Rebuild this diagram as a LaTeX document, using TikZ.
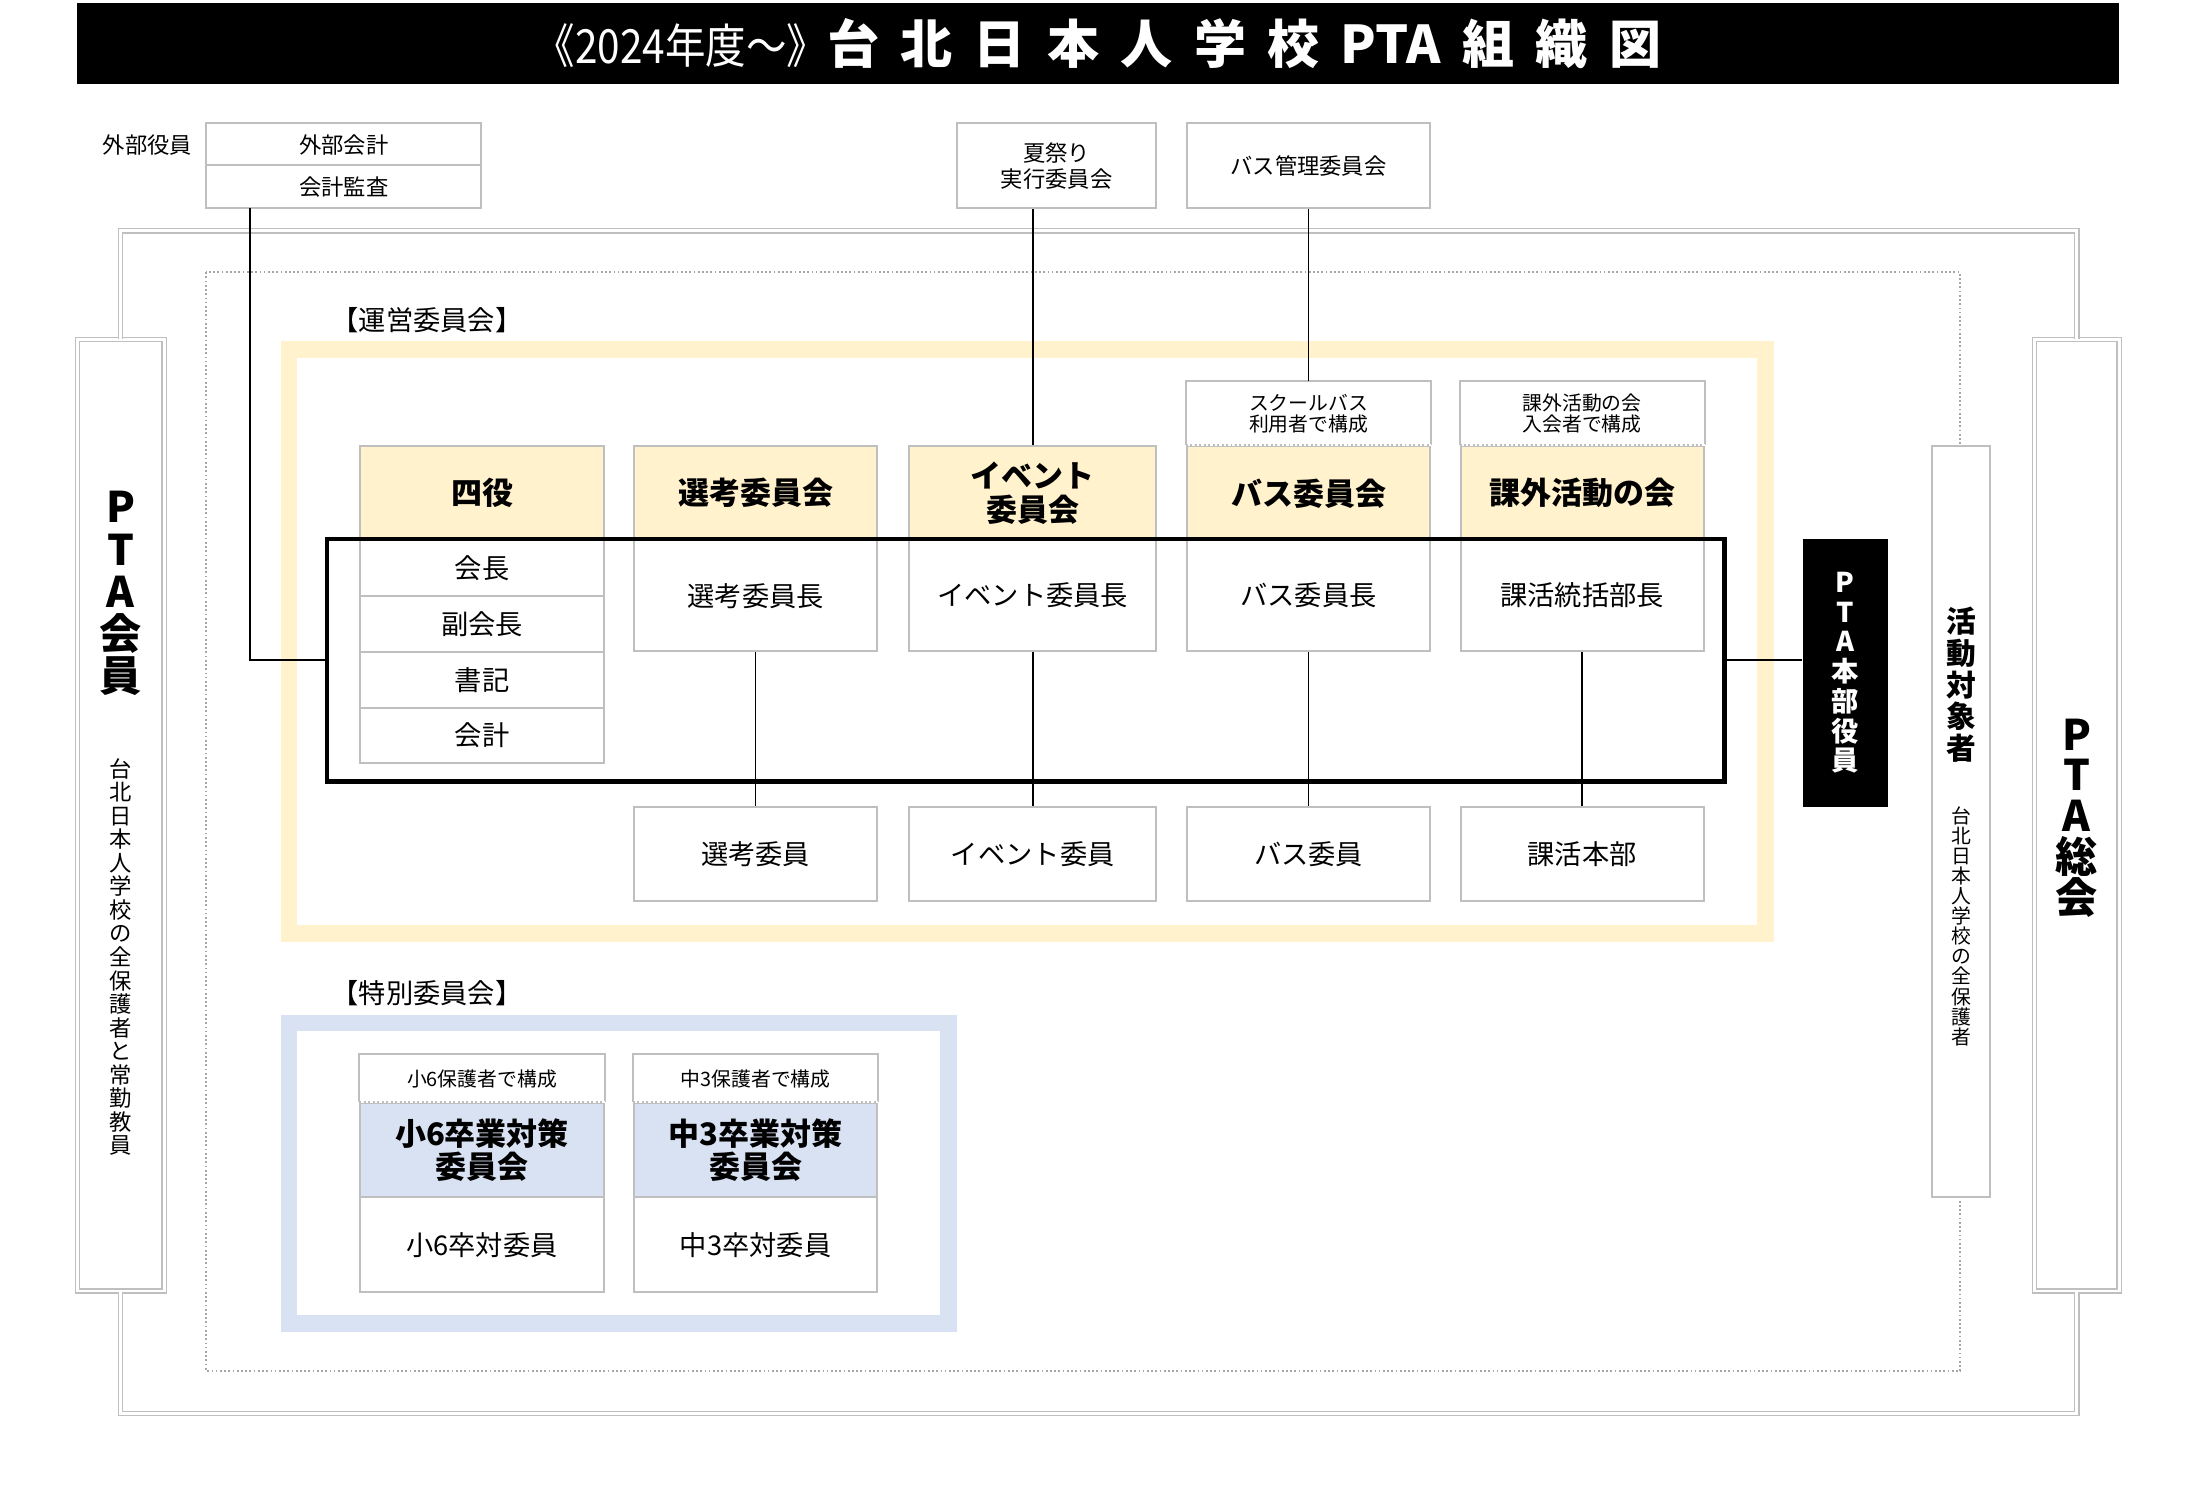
\documentclass[tikz,border=0pt]{standalone}
\usepackage{fontspec}
\setmainfont{Noto Sans CJK JP}
\definecolor{hdyel}{HTML}{FFF2CC}
\definecolor{hdblue}{HTML}{D9E2F3}
\definecolor{bxgray}{HTML}{BFBFBF}
\newcommand\tsp{\kern0.41em}

\begin{document}
\begin{tikzpicture}[x=0.0199cm, y=-0.0199cm,
        bx/.style={draw=bxgray, line width=0.8pt, fill=white, minimum width=3.45cm, inner sep=0pt, align=center, font=\fontsize{11}{13}\selectfont},
        hd/.style={bx, fill=hdyel, minimum height=1.33cm, font=\fontsize{12.5}{13.5}\selectfont\bfseries},
        hdb/.style={hd, fill=hdblue},
        nt/.style={bx, draw=none, font=\fontsize{8}{8.5}\selectfont},
        ln/.style={line width=0.6pt},
        dbl/.style={draw=bxgray, line width=0.5pt, double=white, double distance=1.2pt},
        sep/.style={bxgray, line width=0.8pt, densely dotted},
        vt/.style={align=center, inner sep=0pt}]
    \useasboundingbox (0,0) rectangle (1567.8,1073.4);
    \node[fill=black, text=white, minimum width=28.95cm, minimum height=1.16cm, inner sep=0pt] (title) at (782.5,31)
        {\fontsize{19}{20}\selectfont\scalebox{0.86}[1]{《2024年度～》}\bfseries\fontsize{21}{22}\selectfont 台\tsp 北\tsp 日\tsp 本\tsp 人\tsp 学\tsp 校\tsp PTA\tsp 組\tsp 織\tsp 図};

    \node[font=\fontsize{9}{10}\selectfont] (gy) at (105,103) {外部役員};
    \node[bx, minimum width=3.9cm, minimum height=0.6cm, font=\fontsize{9}{10}\selectfont] (gk) at (245,103) {外部会計};
    \node[bx, minimum width=3.9cm, minimum height=0.6cm, font=\fontsize{9}{10}\selectfont] (ks) at (245,133) {会計監査};
    \node[bx, minimum width=2.83cm, minimum height=1.2cm, font=\fontsize{9}{10.5}\selectfont] (nm) at (753,118) {夏祭り\\実行委員会};
    \node[bx, minimum height=1.2cm, font=\fontsize{9}{10}\selectfont] (bk) at (932.5,118) {バス管理委員会};

    \node[dbl, minimum width=1.23cm, minimum height=13.49cm] (kaiin) at (86,581) {};
    \node[dbl, minimum width=1.2cm, minimum height=13.49cm] (sokai) at (1480,581) {};
    \draw[dbl] (kaiin.north) -- ++(0,-77) -| (sokai.north);
    \draw[dbl] (kaiin.south) -- ++(0,87) -| (sokai.south);
    \draw[gray!70, line width=0.7pt, densely dotted] (147,194) rectangle (1397,977);
    \node[draw=bxgray, line width=0.8pt, fill=white, minimum width=0.82cm, minimum height=10.65cm] (taisho) at (1397.5,585.5) {};

    \node[vt, font=\fontsize{17}{17}\selectfont\bfseries] (kaiinA) at (86,423) {P\\T\\A\\会\\員};
    \node[vt, font=\fontsize{9}{9.5}\selectfont] (kaiinB) at (86,682) {台\\北\\日\\本\\人\\学\\校\\の\\全\\保\\護\\者\\と\\常\\勤\\教\\員};
    \node[vt, font=\fontsize{12}{12.8}\selectfont\bfseries] (taishoA) at (1397.5,488) {活\\動\\対\\象\\者};
    \node[vt, font=\fontsize{8}{8.1}\selectfont] (taishoB) at (1397.5,660) {台\\北\\日\\本\\人\\学\\校\\の\\全\\保\\護\\者};
    \node[vt, font=\fontsize{17}{16.5}\selectfont\bfseries] (sokaiA) at (1480,583) {P\\T\\A\\総\\会};

    \node[anchor=west, font=\fontsize{11}{12}\selectfont] (unei) at (230,228) {【運営委員会】};
    \node[anchor=west, font=\fontsize{11}{12}\selectfont] (tokube) at (230,708) {【特別委員会】};
    \draw[hdyel, line width=6.8pt] (206,249) rectangle (1258,665);
    \draw[hdblue, line width=6.8pt] (206,729) rectangle (676,943);

    \node[hd] (h1) at (343.5,351.5) {四役};
    \node[bx, minimum height=0.79cm] (r1) at (343.5,404.9) {会長};
    \node[bx, minimum height=0.79cm] (r2) at (343.5,444.6) {副会長};
    \node[bx, minimum height=0.79cm] (r3) at (343.5,484.4) {書記};
    \node[bx, minimum height=0.79cm] (r4) at (343.5,524.1) {会計};

    \node[hd] (h2) at (538.5,351.5) {選考委員会};
    \node[bx, minimum height=1.57cm] (ch2) at (538.5,424.5) {選考委員長};
    \node[bx, minimum height=1.33cm] (m2) at (538.5,608.5) {選考委員};

    \node[hd, minimum width=3.5cm] (h3) at (736,351.5) {イベント\\委員会};
    \node[bx, minimum width=3.5cm, minimum height=1.57cm] (ch3) at (736,424.5) {イベント委員長};
    \node[bx, minimum width=3.5cm, minimum height=1.33cm] (m3) at (736,608.5) {イベント委員};

    \node[nt, minimum height=0.92cm] (n4) at (932.5,295) {スクールバス\\利用者で構成};
    \node[hd] (h4) at (932.5,351.5) {バス委員会};
    \node[bx, minimum height=1.57cm] (ch4) at (932.5,424.5) {バス委員長};
    \node[bx, minimum height=1.33cm] (m4) at (932.5,608.5) {バス委員};

    \node[nt, minimum height=0.92cm] (n5) at (1127.5,295) {課外活動の会\\入会者で構成};
    \node[hd] (h5) at (1127.5,351.5) {課外活動の会};
    \node[bx, minimum height=1.57cm] (ch5) at (1127.5,424.5) {課活統括部長};
    \node[bx, minimum height=1.33cm] (m5) at (1127.5,608.5) {課活本部};

    \node[nt, minimum height=0.68cm] (s1) at (343.5,769) {小6保護者で構成};
    \node[hdb] (sh1) at (343.5,819.5) {小6卒業対策\\委員会};
    \node[bx, minimum height=1.35cm] (sm1) at (343.5,887) {小6卒対委員};
    \node[nt, minimum height=0.68cm] (s2) at (538.5,769) {中3保護者で構成};
    \node[hdb] (sh2) at (538.5,819.5) {中3卒業対策\\委員会};
    \node[bx, minimum height=1.35cm] (sm2) at (538.5,887) {中3卒対委員};

    \draw[bxgray, line width=0.8pt] (h4.north west) |- (n4.north) -| (h4.north east);
    \draw[bxgray, line width=0.8pt] (h5.north west) |- (n5.north) -| (h5.north east);
    \draw[bxgray, line width=0.8pt] (sh1.north west) |- (s1.north) -| (sh1.north east);
    \draw[bxgray, line width=0.8pt] (sh2.north west) |- (s2.north) -| (sh2.north east);
    \draw[white, line width=0.9pt] (h4.north west) -- (h4.north east);
    \draw[white, line width=0.9pt] (h5.north west) -- (h5.north east);
    \draw[white, line width=0.9pt] (sh1.north west) -- (sh1.north east);
    \draw[white, line width=0.9pt] (sh2.north west) -- (sh2.north east);
    \draw[sep] (h4.north west) -- (h4.north east);
    \draw[sep] (h5.north west) -- (h5.north east);
    \draw[sep] (sh1.north west) -- (sh1.north east);
    \draw[sep] (sh2.north west) -- (sh2.north east);

    \node[draw, line width=1.8pt, minimum width=19.82cm, minimum height=3.44cm] (grp) at (731,470.5) {};
    \node[fill=black, text=white, minimum width=1.2cm, minimum height=3.8cm, vt, font=\fontsize{11}{12}\selectfont\bfseries] (hb) at (1315,479.5) {P\\T\\A\\本\\部\\役\\員};

    \coordinate (kl) at (178,148);
    \draw[ln] (kl) |- (grp.west);
    \draw[ln] (h3.north) -- (h3.north |- nm.south);
    \draw[ln] (bk.south) -- (n4.north);
    \draw[ln] (ch2.south) -- (m2.north);
    \draw[ln] (ch3.south) -- (m3.north);
    \draw[ln] (ch4.south) -- (m4.north);
    \draw[ln] (ch5.south) -- (m5.north);
    \draw[ln] (grp.east) -- (grp.east -| hb.west);
\end{tikzpicture}
\end{document}
